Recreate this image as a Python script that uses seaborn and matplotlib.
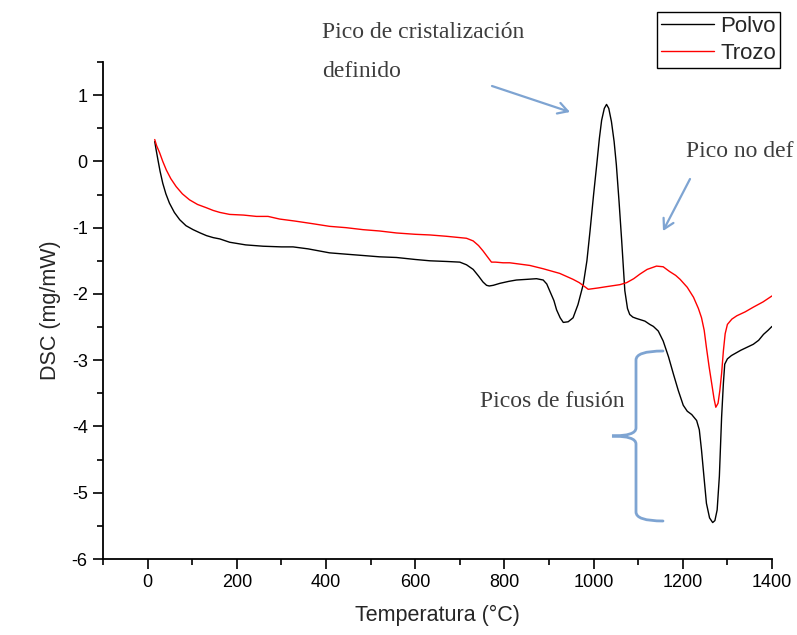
import matplotlib
matplotlib.use("Agg")
import matplotlib.pyplot as plt
from matplotlib.path import Path
from matplotlib.patches import PathPatch
from matplotlib.ticker import MultipleLocator
import numpy as np
import pandas as pd
import seaborn as sns

# DSC curves: temperature (°C) and heat flow (mg/mW)
polvo_temp = [16, 19, 23, 28, 34, 41, 49, 60, 72, 86, 102, 118, 132, 147, 162, 184, 220, 259,
              300, 326, 360, 408, 445, 483, 520, 558, 600, 633, 670, 700, 715, 730, 742, 752,
              760, 766, 775, 790, 810, 827, 850, 872, 887, 895, 902, 911, 917, 925, 932, 943,
              954, 965, 977, 985, 992, 1000, 1007, 1013, 1018, 1024, 1029, 1034, 1040, 1046,
              1051, 1057, 1063, 1070, 1076, 1081, 1088, 1096, 1115, 1126, 1134, 1145, 1156,
              1168, 1179, 1190, 1201, 1210, 1220, 1231, 1237, 1242, 1248, 1253, 1260, 1267,
              1272, 1277, 1282, 1287, 1291, 1294, 1300, 1309, 1330, 1358, 1370, 1381, 1391, 1400]
polvo_dsc = [0.30, 0.18, 0.03, -0.15, -0.33, -0.49, -0.63, -0.77, -0.88, -0.97, -1.03, -1.08,
             -1.12, -1.15, -1.17, -1.22, -1.26, -1.28, -1.29, -1.29, -1.32, -1.38, -1.40, -1.42,
             -1.44, -1.45, -1.48, -1.50, -1.51, -1.52, -1.56, -1.63, -1.73, -1.82, -1.87, -1.88,
             -1.87, -1.84, -1.81, -1.79, -1.78, -1.77, -1.79, -1.85, -1.96, -2.10, -2.24, -2.36,
             -2.43, -2.42, -2.36, -2.16, -1.85, -1.50, -1.05, -0.50, -0.05, 0.35, 0.62, 0.80,
             0.86, 0.80, 0.60, 0.30, -0.05, -0.60, -1.20, -1.95, -2.22, -2.31, -2.35, -2.37,
             -2.41, -2.46, -2.49, -2.56, -2.71, -2.95, -3.21, -3.46, -3.68, -3.77, -3.82, -3.91,
             -4.05, -4.36, -4.80, -5.16, -5.38, -5.45, -5.42, -5.26, -4.75, -3.86, -3.35, -3.06,
             -2.98, -2.93, -2.85, -2.76, -2.70, -2.61, -2.55, -2.49]

trozo_temp = [16, 20, 27, 34, 42, 52, 64, 78, 94, 112, 132, 147, 162, 184, 215, 244, 270, 296,
              330, 370, 408, 445, 483, 520, 558, 600, 633, 670, 700, 715, 730, 742, 752, 762,
              771, 780, 797, 812, 857, 887, 924, 954, 968, 988, 1010, 1029, 1059, 1074, 1090,
              1104, 1120, 1141, 1156, 1170, 1184, 1194, 1210, 1224, 1235, 1242, 1248, 1253,
              1259, 1265, 1270, 1274, 1279, 1283, 1287, 1291, 1295, 1300, 1310, 1321, 1340,
              1358, 1380, 1400]
trozo_dsc = [0.33, 0.24, 0.13, 0.00, -0.13, -0.26, -0.38, -0.49, -0.58, -0.65, -0.70, -0.74,
             -0.77, -0.80, -0.81, -0.83, -0.83, -0.87, -0.90, -0.94, -0.98, -1.00, -1.03, -1.05,
             -1.08, -1.10, -1.11, -1.13, -1.15, -1.16, -1.20, -1.27, -1.35, -1.44, -1.52, -1.52,
             -1.53, -1.53, -1.57, -1.62, -1.69, -1.78, -1.83, -1.93, -1.91, -1.89, -1.86, -1.83,
             -1.77, -1.70, -1.63, -1.58, -1.59, -1.66, -1.72, -1.78, -1.90, -2.05, -2.22, -2.36,
             -2.55, -2.81, -3.10, -3.36, -3.58, -3.71, -3.65, -3.46, -3.20, -2.86, -2.60, -2.46,
             -2.38, -2.33, -2.27, -2.20, -2.12, -2.03]

series_names = ["Polvo", "Trozo"]
series_colors = ["black", "red"]

df = pd.concat([
    pd.DataFrame({"Temperatura": polvo_temp, "DSC": polvo_dsc, "Muestra": series_names[0]}),
    pd.DataFrame({"Temperatura": trozo_temp, "DSC": trozo_dsc, "Muestra": series_names[1]}),
], ignore_index=True)

sns.set_style("ticks")
plt.rcParams["font.family"] = ["Liberation Sans", "DejaVu Sans"]
plt.rcParams["axes.unicode_minus"] = False

W, H = 797, 635
fig = plt.figure(figsize=(W / 100, H / 100), dpi=100)


def fp(x, y):
    """Pixel position (from top-left) to figure fraction."""
    return (x / W, 1 - y / H)


ax = fig.add_axes([103 / W, 1 - 559 / H, (772 - 103) / W, (559 - 62) / H])

sns.lineplot(data=df, x="Temperatura", y="DSC", hue="Muestra", hue_order=series_names,
             palette=dict(zip(series_names, series_colors)), sort=False, estimator=None,
             linewidth=1.0, ax=ax)

ax.set_xlim(-100, 1400)
ax.set_ylim(-6, 1.5)
ax.xaxis.set_major_locator(MultipleLocator(200))
ax.xaxis.set_minor_locator(MultipleLocator(100))
ax.yaxis.set_major_locator(MultipleLocator(1))
ax.yaxis.set_minor_locator(MultipleLocator(0.5))
for s in ["top", "right"]:
    ax.spines[s].set_visible(False)
for s in ["left", "bottom"]:
    ax.spines[s].set_linewidth(1.3)
    ax.spines[s].set_color("black")
ax.tick_params(which="major", direction="out", length=7, width=1.2, labelsize=13,
               colors="black", pad=4)
ax.tick_params(which="minor", direction="out", length=4, width=1.2, colors="black")
ax.set_xlabel("Temperatura (°C)", fontsize=15.5, labelpad=10)
ax.set_ylabel("DSC (mg/mW)", fontsize=15.5, labelpad=8)

leg = ax.legend(loc="upper right", bbox_to_anchor=fp(780, 12), bbox_transform=fig.transFigure,
                borderaxespad=0, frameon=True, fancybox=False, framealpha=1,
                edgecolor="black", fontsize=16, handlelength=2.35, handletextpad=0.3,
                borderpad=0.18, labelspacing=0.25, title=None)
leg.get_frame().set_linewidth(1.0)
for line in leg.get_lines():
    line.set_linewidth(1.0)

# Annotations
serif = ["Liberation Serif", "DejaVu Serif"]
note_color = "#3d3d3d"
arrow_color = "#7ea4d2"

fig.text(*fp(322, 38), "Pico de cristalización", family=serif, fontsize=17,
         color=note_color, va="baseline", ha="left")
fig.text(*fp(322, 77), "definido", family=serif, fontsize=17,
         color=note_color, va="baseline", ha="left")
fig.text(*fp(686, 157), "Pico no def", family=serif, fontsize=17,
         color=note_color, va="baseline", ha="left")
fig.text(*fp(480, 407), "Picos de fusión", family=serif, fontsize=17,
         color=note_color, va="baseline", ha="left")

for tail, head in [((492, 86), (570, 112)), ((690, 179), (663, 231))]:
    ax.annotate("", xy=fp(*head), xycoords="figure fraction",
                xytext=fp(*tail), textcoords="figure fraction",
                arrowprops=dict(arrowstyle="->,head_length=0.7,head_width=0.4",
                                color=arrow_color, lw=1.6, shrinkA=0, shrinkB=0))

# Curly brace grouping the melting peaks
brace_px = [(663, 351), (636, 351), (636, 360),
            (636, 428),
            (636, 436), (612, 436),
            (636, 436), (636, 444),
            (636, 512),
            (636, 521), (663, 521)]
codes = [Path.MOVETO, Path.CURVE3, Path.CURVE3,
         Path.LINETO,
         Path.CURVE3, Path.CURVE3,
         Path.CURVE3, Path.CURVE3,
         Path.LINETO,
         Path.CURVE3, Path.CURVE3]
brace = Path([fp(x, y) for x, y in brace_px], codes)
fig.add_artist(PathPatch(brace, transform=fig.transFigure, facecolor="none",
                         edgecolor=arrow_color, lw=2.0, capstyle="round"))

fig.savefig("out.png", dpi=100)
